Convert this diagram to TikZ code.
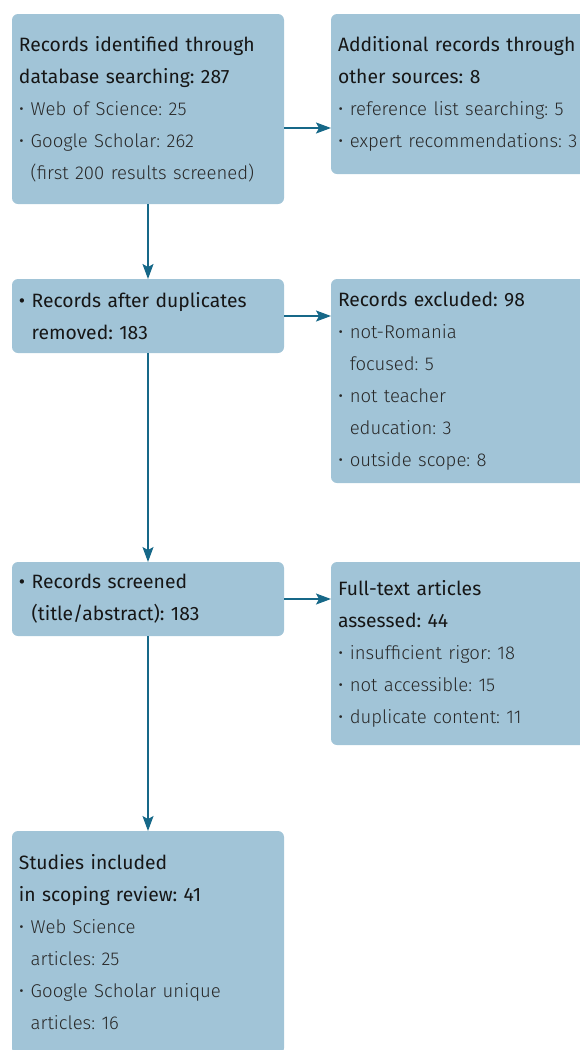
\documentclass[tikz,border=0pt]{standalone}
\usepackage{fontspec}
\setmainfont{Fira Sans}
\newfontfamily\lightfont{Fira Sans Light}[Scale=0.96]
\usetikzlibrary{arrows.meta, positioning}

\definecolor{boxfill}{RGB}{161,196,215}
\definecolor{arrowcol}{RGB}{22,104,136}
\definecolor{headtext}{RGB}{22,22,22}
\definecolor{itemtext}{RGB}{40,40,40}
\newcommand{\contind}{\phantom{•~}}
\frenchspacing

\begin{document}
\begin{tikzpicture}[
x=1pt, y=-1pt,
box/.style={
    fill=boxfill,
    rounded corners=6pt,
    align=left,
    text=headtext,
    font=\fontsize{19.3}{32}\selectfont,
    text width=258pt,
    inner xsep=7pt,
    outer sep=0pt,
    minimum width=271pt
},
widebox/.style={box, text width=300pt},
arrow/.style={-{Stealth[length=15pt,width=11pt,inset=3pt]}, draw=arrowcol, line width=1.3pt}
]

\useasboundingbox (0,0) rectangle (580,1050);
\clip (0,0) rectangle (580,1050);

% Left column
\node[box, anchor=north west, minimum height=190pt] (ident) at (12,14) {Records identified through\\
database searching: 287\\
{\lightfont\color{itemtext}• Web of Science: 25}\\
{\lightfont\color{itemtext}• Google Scholar: 262}\\
{\lightfont\color{itemtext}\contind(first 200 results screened)}};
\node[box, below=75pt of ident, minimum height=74pt] (dup) {• Records after duplicates\\
\contind removed: 183};
\node[box, below=209pt of dup, minimum height=74pt] (screen) {• Records screened\\
\contind(title/abstract): 183};
\node[box, below=195pt of screen, minimum height=223pt] (incl) {Studies included\\
in scoping review: 41\\
{\lightfont\color{itemtext}• Web Science}\\
{\lightfont\color{itemtext}\contind articles: 25}\\
{\lightfont\color{itemtext}• Google Scholar unique}\\
{\lightfont\color{itemtext}\contind articles: 16}};

% Right column
\node[widebox, right=47pt of ident.north east, anchor=north west, minimum height=160pt] (other) {Additional records through\\
other sources: 8\\
{\lightfont\color{itemtext}• reference list searching: 5}\\
{\lightfont\color{itemtext}• expert recommendations: 3}};
\node[widebox, right=47pt of dup.north east, anchor=north west, minimum height=204pt] (excl) {Records excluded: 98\\
{\lightfont\color{itemtext}• not-Romania}\\
{\lightfont\color{itemtext}\contind focused: 5}\\
{\lightfont\color{itemtext}• not teacher}\\
{\lightfont\color{itemtext}\contind education: 3}\\
{\lightfont\color{itemtext}• outside scope: 8}};
\node[widebox, right=47pt of screen.north east, anchor=north west, minimum height=183pt] (full) {Full-text articles\\
assessed: 44\\
{\lightfont\color{itemtext}• insufficient rigor: 18}\\
{\lightfont\color{itemtext}• not accessible: 15}\\
{\lightfont\color{itemtext}• duplicate content: 11}};

% Arrows
\draw[arrow] (ident) -- (dup);
\draw[arrow] (dup) -- (screen);
\draw[arrow] (screen) -- (incl);
\draw[arrow] ([yshift=-19pt]ident.east) -- ([yshift=-19pt]ident.east -| other.west);
\draw[arrow] (dup.east) -- (dup.east -| excl.west);
\draw[arrow] (screen.east) -- (screen.east -| full.west);

\end{tikzpicture}
\end{document}
